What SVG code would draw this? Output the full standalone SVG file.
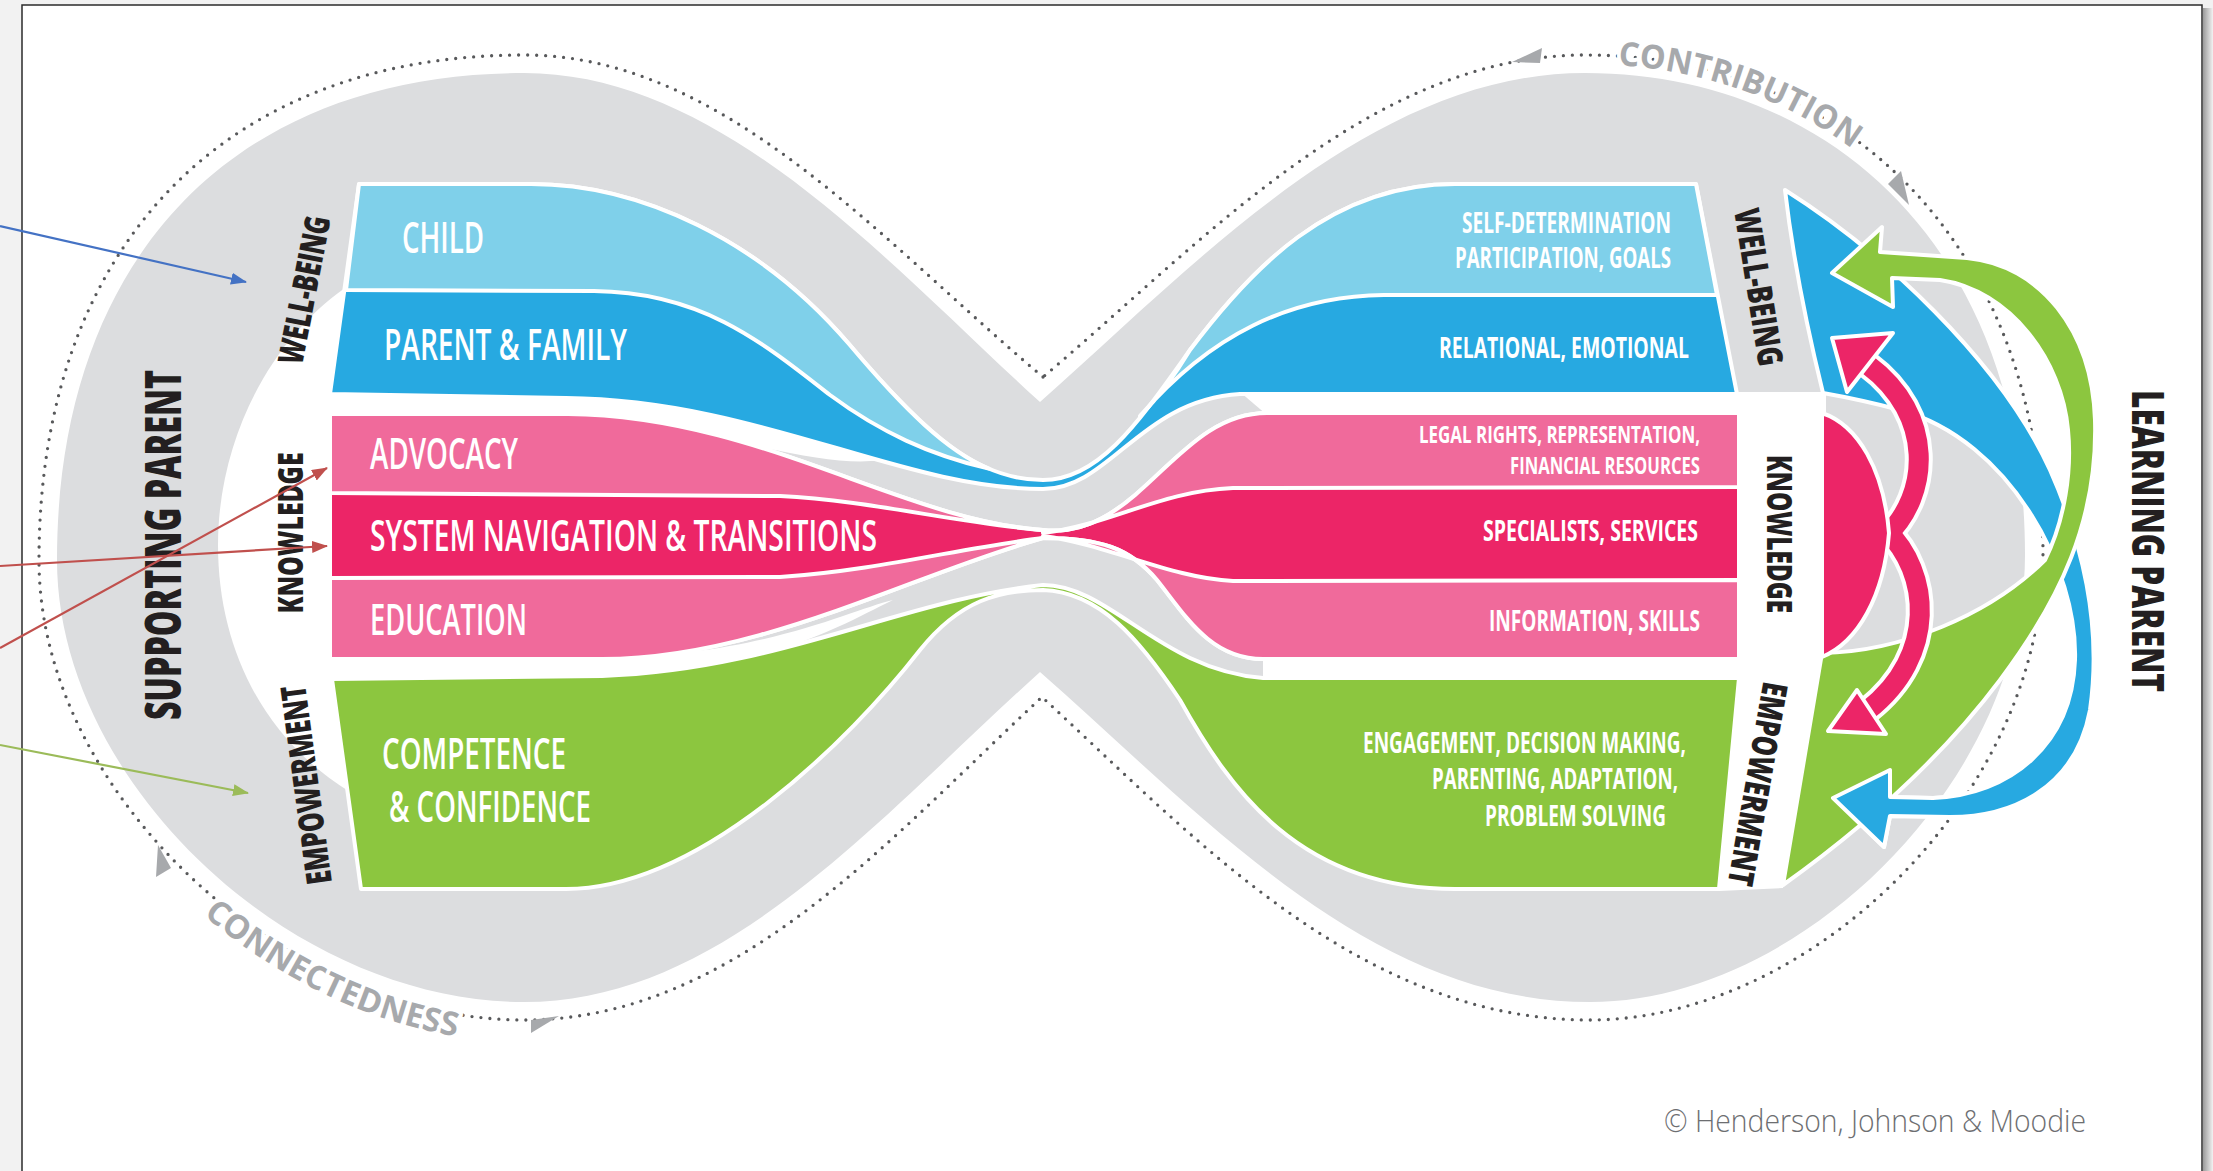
<svg xmlns="http://www.w3.org/2000/svg" width="2213" height="1171" viewBox="0 0 2213 1171">
<defs>
<style>
.band{fill:#dcdddf}
.dots{fill:none;stroke:#58595b;stroke-width:3.3;stroke-linecap:round;stroke-dasharray:0 9}
.wh{fill:#fff}
.st{stroke:#fff;stroke-width:4;stroke-linejoin:round}
.lb{fill:#7fd0ea}.db{fill:#27a9e1}.lp{fill:#f06a9b}.dp{fill:#ec2567}.gr{fill:#8cc63f}
.bar{font-family:"Open Sans","Liberation Sans",sans-serif;font-weight:600;fill:#fff}
.rbar{font-family:"Open Sans","Liberation Sans",sans-serif;font-weight:700;fill:#fff}
.lab{font-family:"Open Sans","Liberation Sans",sans-serif;font-weight:800;fill:#231f20}
.arc{font-family:"Open Sans","Liberation Sans",sans-serif;font-weight:700;font-size:33px;fill:#a7a9ac;stroke:#fff;stroke-width:8;paint-order:stroke;stroke-linejoin:round}
.tri{fill:#a7a9ac}
</style>
<linearGradient id="shd" x1="0" y1="0" x2="1" y2="0">
<stop offset="0" stop-color="#9a9a9a"/><stop offset="1" stop-color="#f2f2f2"/>
</linearGradient>
<marker id="mB" markerUnits="userSpaceOnUse" markerWidth="16" markerHeight="12" refX="15" refY="6" orient="auto"><path d="M0,0 L16,6 L0,12 Z" fill="#4472c4"/></marker>
<marker id="mR" markerUnits="userSpaceOnUse" markerWidth="16" markerHeight="12" refX="15" refY="6" orient="auto"><path d="M0,0 L16,6 L0,12 Z" fill="#c0504d"/></marker>
<marker id="mG" markerUnits="userSpaceOnUse" markerWidth="16" markerHeight="12" refX="15" refY="6" orient="auto"><path d="M0,0 L16,6 L0,12 Z" fill="#9bbb59"/></marker>
<path id="tp1" d="M 1585,64 C 1838,64 2034,250 2034,555"/>
<path id="tp2" d="M 181,895 C 276,984 400,1042 524,1042"/>
<clipPath id="lowClip"><rect x="1800" y="620" width="320" height="260"/></clipPath>
<path id="blueArrow" d="M 1785,190 C 1880,250 2000,360 2050,470 C 2090,560 2100,640 2090,710 C 2075,790 2010,817 1950,817 L 1890,816 L 1884,847 L 1833,798 L 1890,770 L 1890,797 L 1933,798 C 2010,795 2072,745 2075,660 C 2078,570 2010,440 1900,410 C 1870,402 1840,396 1823,393 C 1805,320 1792,250 1785,190 Z"/>
</defs>

<g id="page">
<rect width="2213" height="1171" fill="#f2f2f2"/>
<rect x="2203" y="8" width="10" height="1163" fill="url(#shd)"/>
<rect x="22" y="5" width="2180" height="1180" fill="#fff" stroke="#2b2b2b" stroke-width="1.5"/>
</g>

<g id="infinity-band">
<path class="band" d="M 1040,402 C 892,268 724,73 524,73 C 234,73 57,258 57,560 C 57,781 290,1002 524,1002 C 724,1002 877,819 1040,672 C 1207,819 1370,1002 1590,1002 C 1800,1002 2025,781 2025,555 C 2025,250 1830,73 1585,73 C 1370,73 1192,268 1040,402 Z"/>
<path class="dots" d="M 1043,377 C 880,240 724,55 524,55 C 222,55 39,250 39,560 C 39,795 285,1020 524,1020 C 735,1020 890,838 1042,697 C 1195,838 1360,1020 1590,1020 C 1810,1020 2043,795 2043,555 C 2043,245 1845,55 1585,55 C 1370,55 1200,245 1043,377 Z"/>
</g>

<g id="cycle-labels">
<text class="arc"><textPath href="#tp1" startOffset="33" textLength="252" lengthAdjust="spacingAndGlyphs">CONTRIBUTION</textPath></text>
<text class="arc"><textPath href="#tp2" startOffset="30" textLength="284" lengthAdjust="spacingAndGlyphs">CONNECTEDNESS</textPath></text>
<polygon class="tri" points="1512,62 1542,48 1540,63"/>
<polygon class="tri" points="1888,184 1901,171 1909,205"/>
<polygon class="tri" points="158,845 156,877 171,868"/>
<polygon class="tri" points="531,1033 531,1020 559,1016"/>
</g>

<g id="white-space">
<path class="wh" d="M 345,288 C 270,340 218,440 218,545 C 218,650 265,740 350,792 L 350,288 Z"/>
<path class="wh" d="M 326,392 L 566,396 C 700,400 800,430 880,460 C 820,470 700,425 568,416 L 326,416 Z"/>
<path class="wh" d="M 326,657 L 602,657 C 760,657 850,610 893,600 C 860,615 760,678 602,678 L 326,681 Z"/>
<path class="wh" d="M 1240,392 L 1826,392 L 1826,415 L 1267,415 Z"/>
<path class="wh" d="M 1263,657 L 1826,657 L 1826,680 L 1263,680 Z"/>
<path class="wh" d="M 1737,392 L 1826,392 L 1822,660 L 1783,888 L 1719,891 Z"/>
</g>

<g id="well-being-streams">
<path class="db st" d="M 359,184 L 531,184 C 640,184 760,240 849,344 C 930,440 980,480 1043,480 C 1100,480 1140,420 1190,350 C 1250,270 1330,184 1455,184 L 1696,184 L 1737,394 L 1240,394 C 1140,400 1110,489 1043,489 C 900,489 760,400 566,398 L 330,394 Z"/>
<path class="lb st" d="M 359,184 L 531,184 C 640,184 760,240 849,344 C 905.7,411.2 947.2,451 988.7,468.6 C 930,455 880,432 830,395 C 760,340 700,292 594,291 L 346,290 Z"/>
<path class="lb st" d="M 1140,416 C 1160,396 1178,370 1190,350 C 1250,270 1330,184 1455,184 L 1696,184 L 1717,295 L 1384,295 C 1290,296 1210,335 1140,416 Z"/>
</g>

<g id="knowledge-streams">
<path class="dp st" d="M 330,414 L 568,414 C 760,416 900,520 1043,530 C 1140,540 1175,413 1267,413 L 1739,413 L 1739,659 L 1263,659 C 1210,659 1185,615 1157,580 C 1130,548 1100,538 1043,538 C 910,575 760,659 602,659 L 330,659 Z"/>
<path class="lp st" d="M 330,414 L 568,414 C 760,416 900,520 1043,530 C 960,524 870,500 780,496 L 330,493 Z"/>
<path class="lp st" d="M 330,578 L 780,577 C 880,570 960,548 1043,538 C 910,575 760,659 602,659 L 330,659 Z"/>
<path class="lp st" d="M 1043,530 C 1140,540 1175,413 1267,413 L 1739,413 L 1739,487 L 1233,488 C 1160,491 1110,525 1043,533 Z"/>
<path class="lp st" d="M 1043,538 C 1100,538 1130,548 1157,580 C 1185,615 1210,659 1263,659 L 1739,659 L 1739,580 L 1233,581 C 1170,578 1110,545 1043,536 Z"/>
</g>

<g id="empowerment-stream">
<path class="gr st" d="M 332,679 L 602,676 C 780,670 900,600 1043,585 C 1110,585 1160,670 1263,678 L 1739,678 L 1719,889 L 1455,889 C 1300,889 1230,790 1180,700 C 1140,640 1100,592 1043,590 C 1000,590 960,600 920,650 C 850,740 700,889 566,889 L 361,889 Z"/>
</g>

<g id="learning-arrows">
<use href="#blueArrow" class="db st"/>
<path class="gr st" d="M 1783,885 L 1822,653 C 1900,652 1990,615 2045,560 C 2065,520 2072,470 2068,430 C 2062,360 2010,290 1940,280 L 1892,278 L 1893,307 L 1832,273 L 1882,227 L 1880,252 L 1967,258 C 2040,265 2092,330 2095,420 C 2098,520 2060,600 2000,680 C 1940,760 1860,830 1783,885 Z"/>
<use href="#blueArrow" class="db st" clip-path="url(#lowClip)"/>
<path d="M 1886,536 C 1930,495 1935,415 1868,365" fill="none" stroke="#fff" stroke-width="28"/>
<path d="M 1886,530 C 1930,572 1938,655 1868,710" fill="none" stroke="#fff" stroke-width="28"/>
<path d="M 1886,536 C 1930,495 1935,415 1868,365" fill="none" stroke="#ec2567" stroke-width="20"/>
<path d="M 1886,530 C 1930,572 1938,655 1868,710" fill="none" stroke="#ec2567" stroke-width="20"/>
<path class="dp st" d="M 1822,413 C 1858,425 1884,470 1889,533 C 1884,596 1858,642 1822,657 Z"/>
<polygon class="dp st" points="1832,338 1893,333 1847,392"/>
<polygon class="dp st" points="1828,731 1886,734 1857,690"/>
</g>

<g id="bar-labels">
<text class="bar" x="402" y="253" font-size="43" textLength="82" lengthAdjust="spacingAndGlyphs">CHILD</text>
<text class="bar" x="384" y="360" font-size="43" textLength="243" lengthAdjust="spacingAndGlyphs">PARENT &amp; FAMILY</text>
<text class="bar" x="370" y="469" font-size="43" textLength="148" lengthAdjust="spacingAndGlyphs">ADVOCACY</text>
<text class="bar" x="370" y="551" font-size="43" textLength="507" lengthAdjust="spacingAndGlyphs">SYSTEM NAVIGATION &amp; TRANSITIONS</text>
<text class="bar" x="370" y="635" font-size="43" textLength="157" lengthAdjust="spacingAndGlyphs">EDUCATION</text>
<text class="bar" x="382" y="769" font-size="43" textLength="184" lengthAdjust="spacingAndGlyphs">COMPETENCE</text>
<text class="bar" x="389" y="822" font-size="43" textLength="202" lengthAdjust="spacingAndGlyphs">&amp; CONFIDENCE</text>
<text class="rbar" x="1671" y="233" font-size="28" text-anchor="end" textLength="209" lengthAdjust="spacingAndGlyphs">SELF-DETERMINATION</text>
<text class="rbar" x="1671" y="268" font-size="28" text-anchor="end" textLength="216" lengthAdjust="spacingAndGlyphs">PARTICIPATION, GOALS</text>
<text class="rbar" x="1689" y="358" font-size="28" text-anchor="end" textLength="250" lengthAdjust="spacingAndGlyphs">RELATIONAL, EMOTIONAL</text>
<text class="rbar" x="1700" y="443" font-size="23" text-anchor="end" textLength="281" lengthAdjust="spacingAndGlyphs">LEGAL RIGHTS, REPRESENTATION,</text>
<text class="rbar" x="1700" y="474" font-size="23" text-anchor="end" textLength="190" lengthAdjust="spacingAndGlyphs">FINANCIAL RESOURCES</text>
<text class="rbar" x="1698" y="541" font-size="28" text-anchor="end" textLength="215" lengthAdjust="spacingAndGlyphs">SPECIALISTS, SERVICES</text>
<text class="rbar" x="1700" y="631" font-size="28" text-anchor="end" textLength="211" lengthAdjust="spacingAndGlyphs">INFORMATION, SKILLS</text>
<text class="rbar" x="1686" y="753" font-size="28" text-anchor="end" textLength="323" lengthAdjust="spacingAndGlyphs">ENGAGEMENT, DECISION MAKING,</text>
<text class="rbar" x="1678" y="789" font-size="28" text-anchor="end" textLength="246" lengthAdjust="spacingAndGlyphs">PARENTING, ADAPTATION,</text>
<text class="rbar" x="1666" y="826" font-size="28" text-anchor="end" textLength="181" lengthAdjust="spacingAndGlyphs">PROBLEM SOLVING</text>
</g>

<g id="dimension-labels">
<text class="lab" font-size="50" transform="translate(163,545) rotate(-90)" text-anchor="middle" dy="0.36em" textLength="350" lengthAdjust="spacingAndGlyphs">SUPPORTING PARENT</text>
<text class="lab" font-size="44" transform="translate(2148,541) rotate(90)" text-anchor="middle" dy="0.36em" textLength="302" lengthAdjust="spacingAndGlyphs">LEARNING PARENT</text>
<text class="lab" font-size="35" transform="translate(304,290) rotate(-79)" text-anchor="middle" dy="0.36em" textLength="150" lengthAdjust="spacingAndGlyphs">WELL-BEING</text>
<text class="lab" font-size="35" transform="translate(290,533) rotate(-90)" text-anchor="middle" dy="0.36em" textLength="161" lengthAdjust="spacingAndGlyphs">KNOWLEDGE</text>
<text class="lab" font-size="35" transform="translate(306,785) rotate(-97.7)" text-anchor="middle" dy="0.36em" textLength="200" lengthAdjust="spacingAndGlyphs">EMPOWERMENT</text>
<text class="lab" font-size="35" transform="translate(1759,287) rotate(81)" text-anchor="middle" dy="0.36em" textLength="159" lengthAdjust="spacingAndGlyphs">WELL-BEING</text>
<text class="lab" font-size="35" transform="translate(1780,534) rotate(90)" text-anchor="middle" dy="0.36em" textLength="158" lengthAdjust="spacingAndGlyphs">KNOWLEDGE</text>
<text class="lab" font-size="35" transform="translate(1758,784) rotate(100)" text-anchor="middle" dy="0.36em" textLength="206" lengthAdjust="spacingAndGlyphs">EMPOWERMENT</text>
</g>

<g id="pointers">
<line x1="0" y1="226" x2="246" y2="282" stroke="#4472c4" stroke-width="2.2" marker-end="url(#mB)"/>
<line x1="0" y1="648" x2="327" y2="468" stroke="#c0504d" stroke-width="2.2" marker-end="url(#mR)"/>
<line x1="0" y1="566" x2="327" y2="546" stroke="#c0504d" stroke-width="2.2" marker-end="url(#mR)"/>
<line x1="0" y1="745" x2="248" y2="793" stroke="#9bbb59" stroke-width="2.2" marker-end="url(#mG)"/>
</g>

<text x="2086" y="1132" text-anchor="end" font-family="'Open Sans','Liberation Sans',sans-serif" font-weight="300" font-size="31" fill="#6d6e71" textLength="422" lengthAdjust="spacingAndGlyphs">© Henderson, Johnson &amp; Moodie</text>
</svg>
